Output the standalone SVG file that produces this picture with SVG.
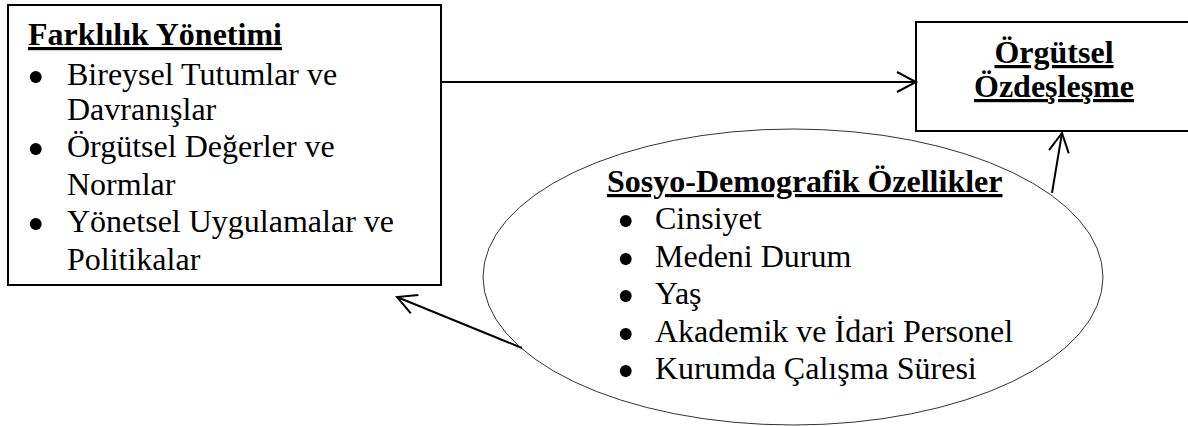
<svg xmlns="http://www.w3.org/2000/svg" width="1188" height="426" viewBox="0 0 1188 426">
<style>
.b { font-weight: bold; text-decoration: underline; }
.bl { font-size: 50px; }
.box { fill: #fff; stroke: #000; stroke-width: 2; }
.ell { fill: none; stroke: #333; stroke-width: 1; }
.conn { stroke: #000; stroke-width: 2; fill: none; marker-end: url(#arr); }
</style>
<defs>
<marker id="arr" markerUnits="userSpaceOnUse" markerWidth="30" markerHeight="30" viewBox="-22 -15 30 30" refX="0" refY="0" orient="auto">
<path d="M -19,-10 L 0,0 L -19,10" fill="none" stroke="#000" stroke-width="2"/>
</marker>
</defs>
<g id="farklilik" font-family="Liberation Serif" font-size="32">
<rect class="box" x="8" y="5" width="433" height="280"/>
<text class="b" x="28" y="45">Farklılık Yönetimi</text>
<text x="27" y="85"><tspan class="bl" y="94">•</tspan><tspan x="67" y="85">Bireysel Tutumlar ve</tspan></text>
<text x="67" y="120">Davranışlar</text>
<text x="27" y="157"><tspan class="bl" y="166">•</tspan><tspan x="67" y="157">Örgütsel Değerler ve</tspan></text>
<text x="67" y="195">Normlar</text>
<text x="27" y="232"><tspan class="bl" y="241">•</tspan><tspan x="67" y="232">Yönetsel Uygulamalar ve</tspan></text>
<text x="67" y="270">Politikalar</text>
</g>
<g id="orgutsel" font-family="Liberation Serif" font-size="32">
<rect class="box" x="916" y="22" width="276" height="109"/>
<text class="b" x="1054" y="63" text-anchor="middle">Örgütsel</text>
<text class="b" x="1054" y="97" text-anchor="middle">Özdeşleşme</text>
</g>
<g id="sosyo" font-family="Liberation Serif" font-size="32">
<ellipse class="ell" cx="793" cy="277" rx="310" ry="148"/>
<text class="b" x="607" y="192">Sosyo-Demografik Özellikler</text>
<text x="617" y="229"><tspan class="bl" y="238">•</tspan><tspan x="655" y="229">Cinsiyet</tspan></text>
<text x="617" y="267"><tspan class="bl" y="276">•</tspan><tspan x="655" y="267">Medeni Durum</tspan></text>
<text x="617" y="304"><tspan class="bl" y="313">•</tspan><tspan x="655" y="304">Yaş</tspan></text>
<text x="617" y="342"><tspan class="bl" y="351">•</tspan><tspan x="655" y="342">Akademik ve İdari Personel</tspan></text>
<text x="617" y="379"><tspan class="bl" y="388">•</tspan><tspan x="655" y="379">Kurumda Çalışma Süresi</tspan></text>
</g>
<g id="connectors">
<line class="conn" x1="441" y1="82" x2="916" y2="82"/>
<line class="conn" x1="522" y1="348" x2="397" y2="297"/>
<line class="conn" x1="1052" y1="193" x2="1062" y2="133"/>
</g>
</svg>
